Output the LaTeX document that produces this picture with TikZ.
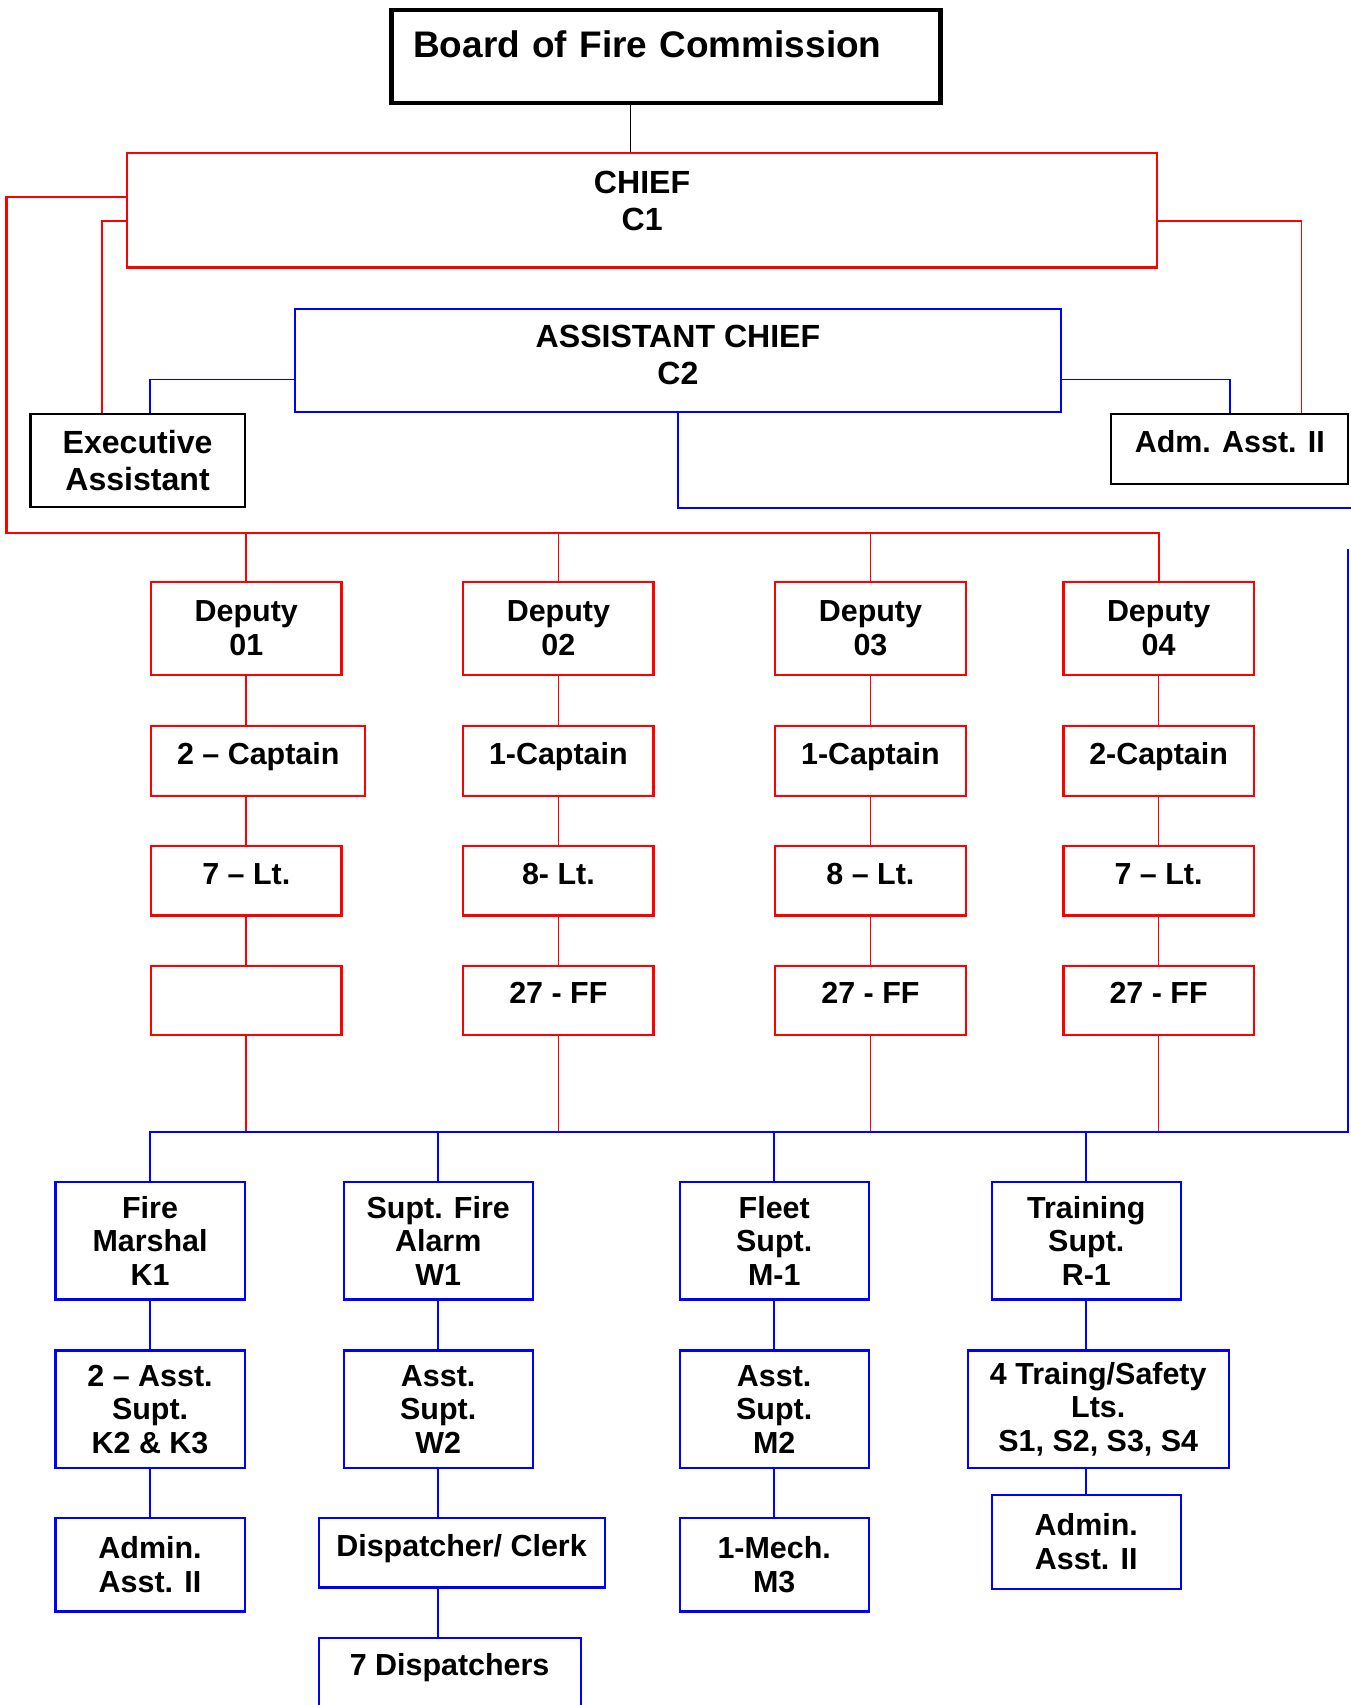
\documentclass[tikz,border=0pt]{standalone}
\usepackage{fontspec}
\setmainfont{Liberation Sans}
\usetikzlibrary{positioning}

\begin{document}
\begin{tikzpicture}[
 x=1pt, y=-1pt, font=\bfseries\fontsize{28}{31}\selectfont,
 box/.style={draw, line width=2pt, inner sep=0pt, align=center, minimum width=175pt},
 rbox/.style={box, draw=red}, bbox/.style={box, draw=blue, minimum width=174pt},
 one/.style={minimum height=64pt, text height=21pt, text depth=15pt},
 tall/.style={font=\bfseries\fontsize{29.5}{34}\selectfont},
 rline/.style={draw=red, line width=1.6pt}, bline/.style={draw=blue, line width=1.6pt},
 rbus/.style={rline, line width=1.9pt}, bbus/.style={bline, line width=1.9pt}]
\useasboundingbox (0,0) rectangle (1242,1568);
\node[box, line width=4pt, minimum width=505pt, minimum height=86pt, text width=465pt, align=left,
 font=\bfseries\fontsize{34}{40}\selectfont, text height=25pt, text depth=24pt] (board) at (612.5,52) {Board of Fire Commission};
\node[rbox, tall, minimum width=947pt, minimum height=105pt, text depth=18pt] (chief) at (590.5,193.5) {CHIEF\\C1};
\node[box, draw=blue, tall, minimum width=705pt, minimum height=95pt, text depth=10pt] (asst) at (623.5,331.5) {ASSISTANT CHIEF\\C2};
\node[box, tall, minimum width=197pt, minimum height=85pt] (exec) at (126.5,423.5) {Executive\\Assistant};
\node[box, one, minimum width=218pt] (adm) at (1131,413) {Adm. Asst. II};
\coordinate (dbus) at (6,490);
\coordinate (bc) at (1243,467);
\coordinate (bt) at (1240,505);
\coordinate (bb) at (1240,1041);

\foreach \i/\x in {1/226.5,2/513.5,3/800.5,4/1065.5}
 \node[rbox, minimum height=86pt] (dep\i) at (\x,578) {Deputy\\0\i};
\node[rbox, one, minimum width=197pt, below=45pt of dep1.south west, anchor=north west] (cap1) {2 – Captain};
\node[rbox, one, below=44pt of cap1.south west, anchor=north west] (lt1) {7 – Lt.};
\node[rbox, one, below=44pt of lt1] (ff1) {};
\node[rbox, one, below=45pt of dep2] (cap2) {1-Captain};
\node[rbox, one, below=44pt of cap2] (lt2) {8- Lt.};
\node[rbox, one, below=44pt of lt2] (ff2) {27 - FF};
\node[rbox, one, below=45pt of dep3] (cap3) {1-Captain};
\node[rbox, one, below=44pt of cap3] (lt3) {8 – Lt.};
\node[rbox, one, below=44pt of lt3] (ff3) {27 - FF};
\node[rbox, one, below=45pt of dep4] (cap4) {2-Captain};
\node[rbox, one, below=44pt of cap4] (lt4) {7 – Lt.};
\node[rbox, one, below=44pt of lt4] (ff4) {27 - FF};

\node[bbox, minimum height=108pt] (fm) at (138,1141) {Fire\\Marshal\\K1};
\node[bbox, minimum height=108pt, below=45pt of fm] (ak) {2 – Asst.\\Supt.\\K2 \& K3};
\node[bbox, minimum height=86pt, below=44pt of ak] (adk) {Admin.\\Asst. II};
\node[bbox, minimum height=108pt] (fa) at (403,1141) {Supt. Fire\\Alarm\\W1};
\node[bbox, minimum height=108pt, below=45pt of fa] (aw) {Asst.\\Supt.\\W2};
\node[bbox, one, minimum width=263pt, below=44pt of aw.south west, anchor=north west, xshift=-23pt] (disp) {Dispatcher/ Clerk};
\node[bbox, one, minimum width=241pt, below=44pt of disp.south west, anchor=north west] (dsp) {7 Dispatchers};
\node[bbox, minimum height=108pt] (fl) at (712,1141) {Fleet\\Supt.\\M-1};
\node[bbox, minimum height=108pt, below=45pt of fl] (am) {Asst.\\Supt.\\M2};
\node[bbox, minimum height=86pt, below=44pt of am] (mech) {1-Mech.\\M3};
\node[bbox, minimum height=108pt] (tr) at (999,1141) {Training\\Supt.\\R-1};
\node[bbox, minimum width=240pt, minimum height=108pt, below=45pt of tr, xshift=11pt] (ts) {4 Traing/Safety\\Lts.\\S1, S2, S3, S4};
\node[bbox, minimum height=86pt, below=23pt of ts, xshift=-11pt] (adt) {Admin.\\Asst. II};

\draw[line width=1pt] ([xshift=-32.5pt]board.south) -- ([xshift=-10.5pt]chief.north);
\draw[rbus] ([yshift=-41pt]chief.north west) -| (dbus) -| (dep4.north);
\draw[rline] ([yshift=-63pt]chief.north west) -| ([xshift=-32.5pt]exec.north);
\draw[rline] ([yshift=-63pt]chief.north east) -| ([xshift=66pt]adm.north);
\draw[bline] ([yshift=-66pt]asst.north west) -| ([xshift=11.5pt]exec.north);
\draw[bline] ([yshift=-66pt]asst.north east) -| (adm.north);
\foreach \i in {1,2,3} \draw[rline] (dep\i.north) -- (dep\i.north |- dbus);
\draw[rline] (dep1.south) -- (dep1.south |- cap1.north) (lt1.north) -- (lt1.north |- cap1.south) (lt1) -- (ff1);
\foreach \i in {2,3,4} \draw[rline] (dep\i) -- (cap\i) (cap\i) -- (lt\i) (lt\i) -- (ff\i);
\foreach \i in {1,...,4} \draw[rline] (ff\i.south) -- (ff\i.south |- bb);
\draw[bbus] (asst.south) |- (bc);
\draw[bbus] (bt) -- (bb) -| (fm.north);
\foreach \n in {fa,fl,tr} \draw[bline] (\n.north) -- (\n.north |- bb);
\draw[bline] (fm) -- (ak) (ak) -- (adk) (fa) -- (aw) (fl) -- (am) (am) -- (mech);
\draw[bline] (aw.south) -- (aw.south |- disp.north) (dsp.north -| aw) -- (disp.south -| aw);
\draw[bline] (tr.south) -- (tr.south |- ts.north) (adt.north) -- (adt.north |- ts.south);
\end{tikzpicture}
\end{document}
